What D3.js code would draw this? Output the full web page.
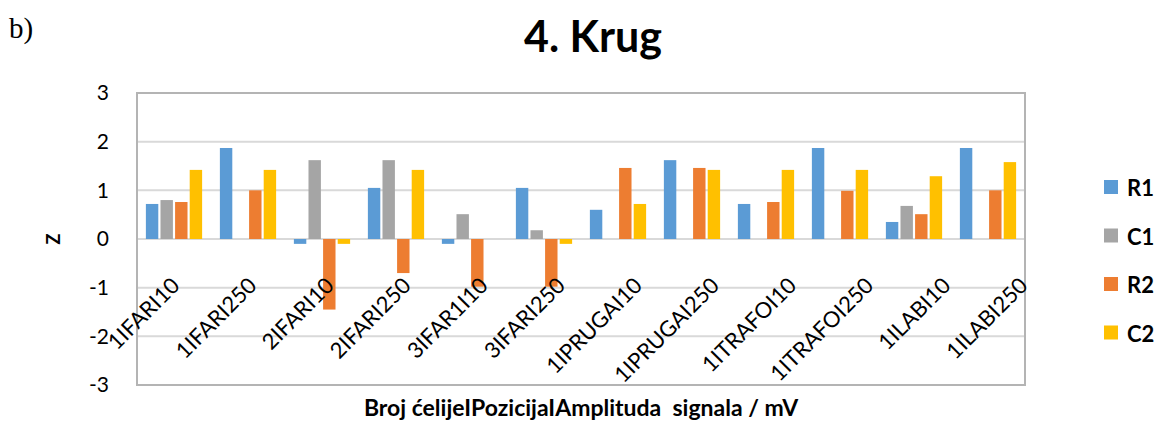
<!DOCTYPE html>
<html>
<head>
<meta charset="utf-8">
<script src="https://cdnjs.cloudflare.com/ajax/libs/d3/7.8.5/d3.min.js"></script>
<style>
    body { margin: 0; background: #fff; }
    text { font-family: Lato, "Open Sans", sans-serif; fill: #000; }
</style>
</head>
<body>
<svg id="chart" width="1158" height="423"></svg>
<script>
var categories = ["1IFARI10", "1IFARI250", "2IFARI10", "2IFARI250", "3IFAR1I10", "3IFARI250",
    "1IPRUGAI10", "1IPRUGAI250", "1ITRAFOI10", "1ITRAFOI250", "1ILABI10", "1ILABI250"];
var seriesNames = ["R1", "C1", "R2", "C2"];
var r1 = [0.72, 1.87, -0.1, 1.05, -0.1, 1.05, 0.6, 1.62, 0.72, 1.87, 0.35, 1.87];
var c1 = [0.8, 0, 1.62, 1.62, 0.51, 0.18, 0, 0, 0, 0, 0.68, 0];
var r2 = [0.76, 1.0, -1.45, -0.7, -0.98, -0.98, 1.46, 1.46, 0.76, 0.99, 0.51, 1.0];
var c2 = [1.42, 1.42, -0.1, 1.42, 0, -0.1, 0.72, 1.42, 1.42, 1.42, 1.29, 1.58];
var yTicks = [-3, -2, -1, 0, 1, 2, 3];

var colors = ["#5B9BD5", "#A5A5A5", "#ED7D31", "#FFC000"];
var values = [r1, c1, r2, c2];

var svg = d3.select("#chart"),
    margin = {top: 93, right: 133, bottom: 38, left: 137},
    width = 1158 - margin.left - margin.right,
    height = 423 - margin.top - margin.bottom;

var g = svg.append("g").attr("transform", "translate(" + margin.left + "," + margin.top + ")");

var x0 = d3.scaleBand().domain(categories).range([0, width]).paddingInner(0.24).paddingOuter(0.12);
var x1 = d3.scaleBand().domain(seriesNames).range([0, x0.bandwidth()]).paddingInner(0.15);
var y = d3.scaleLinear().domain([-3, 3]).range([height, 0]);
// the category labels sit on a slightly wider spacing than the bars
var xLab = d3.scalePoint().domain(categories).range([44, 892]);

// gridlines
g.selectAll(".grid")
    .data(yTicks)
    .enter().append("line")
    .attr("x1", 0).attr("x2", width)
    .attr("y1", function (d) { return y(d); })
    .attr("y2", function (d) { return y(d); })
    .style("stroke", "#d9d9d9")
    .style("stroke-width", 2);

// bars
categories.forEach(function (c, i) {
    var cg = g.append("g").attr("transform", "translate(" + x0(c) + ",0)");
    seriesNames.forEach(function (s, j) {
        var v = values[j][i];
        cg.append("rect")
            .attr("x", x1(s))
            .attr("width", x1.bandwidth())
            .attr("y", y(Math.max(0, v)))
            .attr("height", Math.abs(y(v) - y(0)))
            .style("fill", colors[j]);
    });
});

// frame
g.append("rect")
    .attr("width", width).attr("height", height)
    .style("fill", "none")
    .style("stroke", "#b4b4b4")
    .style("stroke-width", 2);

// y axis labels
var yAxis = g.append("g").call(d3.axisLeft(y).tickValues(yTicks).tickSize(0).tickPadding(28)
    .tickFormat(function (d) { return String(d); }));
yAxis.select(".domain").remove();
yAxis.selectAll("text").style("font-size", "21px").style("font-family", "Lato, sans-serif");

// x labels, rotated
g.selectAll(".xlab")
    .data(categories)
    .enter().append("text")
    .attr("class", "xlab")
    .attr("transform", function (d) {
        return "translate(" + xLab(d) + "," + (y(0) + 48) + ") rotate(-45)";
    })
    .style("text-anchor", "end")
    .style("font-size", "22px")
    .text(function (d) { return d; });

// titles
svg.append("text")
    .attr("x", 593).attr("y", 52)
    .style("text-anchor", "middle")
    .style("font-size", "43px")
    .style("font-weight", "bold")
    .text("4. Krug");

svg.append("text")
    .attr("x", 9).attr("y", 38)
    .style("font-family", "'Liberation Serif', serif")
    .style("font-size", "29px")
    .text("b)");

svg.append("text")
    .attr("transform", "translate(60," + (margin.top + y(0)) + ") rotate(-90)")
    .style("text-anchor", "middle")
    .style("font-size", "18px")
    .style("font-weight", "bold")
    .text("Z");

svg.append("text")
    .attr("x", 581).attr("y", 416)
    .style("text-anchor", "middle")
    .style("font-size", "23px")
    .style("font-weight", "bold")
    .style("white-space", "pre")
    .text("Broj ćelijeIPozicijaIAmplituda  signala / mV");

// legend
var legend = svg.append("g").attr("transform", "translate(1104,180)");
seriesNames.forEach(function (s, j) {
    var lg = legend.append("g").attr("transform", "translate(0," + (j * 48.5) + ")");
    lg.append("rect").attr("width", 14).attr("height", 14).style("fill", colors[j]);
    lg.append("text").attr("x", 23).attr("y", 16)
        .style("font-size", "22px").style("font-weight", "bold")
        .text(s);
});
</script>
</body>
</html>
